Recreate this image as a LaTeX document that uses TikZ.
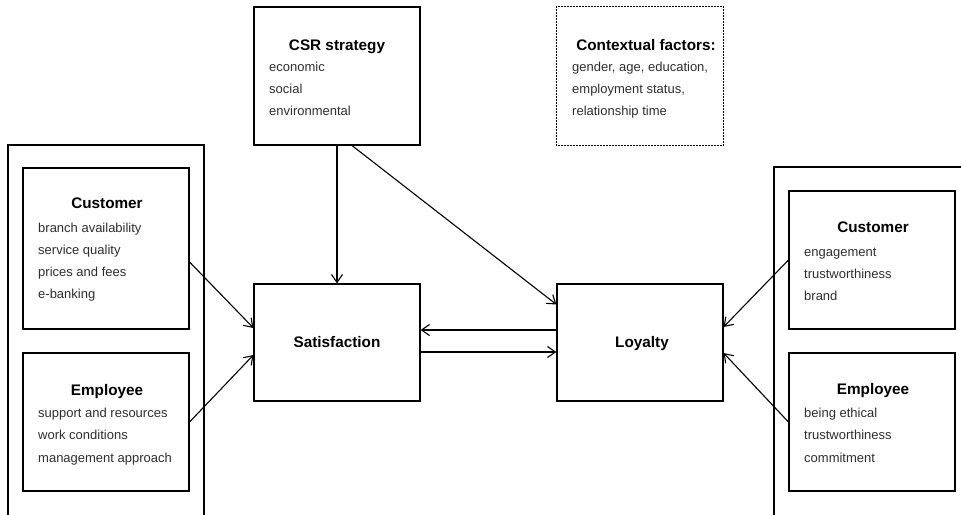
\documentclass[tikz,border=0pt]{standalone}
\usepackage{fontspec}
\setmainfont{Liberation Sans}
\usetikzlibrary{arrows.meta}
\begin{document}
\begin{tikzpicture}[x=1pt,y=-1pt,
  box/.style={draw,line width=1.1pt,rectangle,inner sep=0pt},
  frame/.style={draw,line width=1.1pt},
  ttl/.style={font=\bfseries\fontsize{15.3}{18}\selectfont,inner sep=0pt,anchor=base},
  itm/.style={font=\fontsize{13}{15}\selectfont,text=black!82,inner sep=0pt,anchor=base west},
  arr/.style={line width=1.1pt,-{Straight Barb[length=8pt,width=11pt,line width=1.1pt]}}]
\useasboundingbox (0,0) rectangle (961,514);
\clip (0,0) rectangle (961,514);
% outer frames
\draw[frame] (8,530) -- (8,145) -- (204,145) -- (204,530);
\draw[frame] (774,530) -- (774,167) -- (975,167);
% boxes
\node[box,minimum width=166pt,minimum height=138pt] (csr) at (337,76) {};
\node[box,draw=none,minimum width=166pt,minimum height=138pt] (ctx) at (640,76) {};
\draw[line width=1pt,dash pattern=on 1.4pt off 1.6pt] (ctx.north west) rectangle (ctx.south east);
\node[box,minimum width=166pt,minimum height=161pt] (lc) at (106,248.5) {};
\node[box,minimum width=166pt,minimum height=138pt] (le) at (106,422) {};
\node[box,minimum width=166pt,minimum height=117pt] (sat) at (337,342.5) {};
\node[box,minimum width=166pt,minimum height=117pt] (loy) at (640,342.5) {};
\node[box,minimum width=166pt,minimum height=138pt] (rc) at (872,260) {};
\node[box,minimum width=166pt,minimum height=138pt] (re) at (872,422) {};
% titles
\node[ttl] (csrt) at (337,50.5) {CSR strategy};
\node[ttl] (ctxt) at (646,50.5) {Contextual factors:};
\node[ttl] (lct) at (107,208.5) {Customer};
\node[ttl] (let) at (107,395.5) {Employee};
\node[ttl] (satt) at (337,347.5) {Satisfaction};
\node[ttl] (loyt) at (642,347.5) {Loyalty};
\node[ttl] (rct) at (873,232.5) {Customer};
\node[ttl] (ret) at (873,394.5) {Employee};
% items
\foreach \t [count=\i] in {economic,social,environmental}
  \node[itm] (csr\i) at (269,71+22*\i-22) {\t};
\foreach \t [count=\i] in {{gender, age, education,},{employment status,},relationship time}
  \node[itm] (ctx\i) at (572,71+22*\i-22) {\t};
\foreach \t [count=\i] in {branch availability,service quality,prices and fees,e-banking}
  \node[itm] (lc\i) at (38,232+22.3*\i-22.3) {\t};
\foreach \t [count=\i] in {support and resources,work conditions,management approach}
  \node[itm] (le\i) at (38,417+22.5*\i-22.5) {\t};
\foreach \t [count=\i] in {engagement,trustworthiness,brand}
  \node[itm] (rc\i) at (804,256+22.3*\i-22.3) {\t};
\foreach \t [count=\i] in {being ethical,trustworthiness,commitment}
  \node[itm] (re\i) at (804,417+22.5*\i-22.5) {\t};
% connectors
\draw[arr] (csr.south) -- (sat.north);
\draw[arr] ([xshift=15pt]csr.south) -- ([yshift=38pt]loy.west);
\draw[arr] ([yshift=-13.5pt]lc.east) -- ([yshift=14.5pt]sat.west);
\draw[arr] (le.east) -- ([yshift=-12.5pt]sat.west);
\draw[arr] ([yshift=12.5pt]loy.west) -- ([yshift=12.5pt]sat.east);
\draw[arr] ([yshift=-9.5pt]sat.east) -- ([yshift=-9.5pt]loy.west);
\draw[arr] (rc.west) -- ([yshift=15.5pt]loy.east);
\draw[arr] (re.west) -- ([yshift=-10.5pt]loy.east);
\end{tikzpicture}
\end{document}
